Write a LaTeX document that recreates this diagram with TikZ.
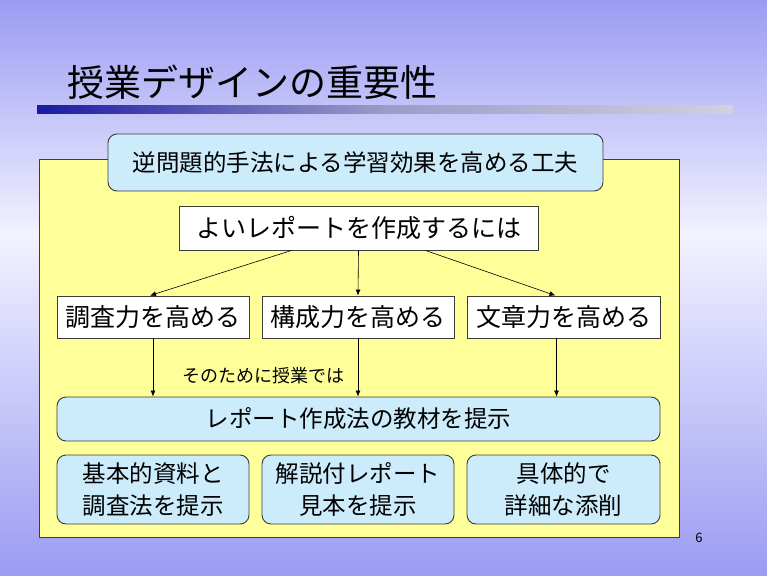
\documentclass[tikz,border=0pt]{standalone}
\usepackage{fontspec}
\setmainfont{Noto Sans CJK JP}
\usetikzlibrary{arrows.meta}
\definecolor{bgblue}{RGB}{155,155,243}
\definecolor{bglight}{RGB}{242,242,255}
\definecolor{panel}{RGB}{255,255,153}
\definecolor{boxblue}{RGB}{204,236,252}
\definecolor{edge}{RGB}{60,60,60}
\begin{document}
\begin{tikzpicture}[x=1pt,y=-1pt,
    plain/.style={draw=edge,fill=white,line width=0.9pt,inner sep=0pt,minimum height=42pt,font=\fontsize{25}{30}\selectfont},
    soft/.style={draw=edge,fill=boxblue,line width=0.9pt,inner sep=0pt,rounded corners=9pt},
    link/.style={-{Latex[length=6pt,width=5pt]},line width=0.6pt}]
            \useasboundingbox (0,0) rectangle (767,575);
            \fill[top color=bgblue,bottom color=bglight] (0,0) rectangle (767,235);
            \fill[top color=bglight,bottom color=bgblue] (0,235) rectangle (767,575);
            \node[anchor=base west,inner sep=0pt,font=\fontsize{37}{40}\selectfont] (T) at (67,96){授業デザインの重要性};
            \fill[left color=blue!60!black!90,right color=bgblue!40!gray!40,middle color=blue!30!gray!60] (37,106) rectangle (733,113);
            \draw[draw=edge,fill=panel,line width=0.9pt] (39,159) rectangle (679,537);
            \node[soft,minimum width=495pt,minimum height=57pt,font=\fontsize{23.5}{28}\selectfont] (G) at (355.5,162.5){逆問題的手法による学習効果を高める工夫};
            \node[plain,minimum width=359pt,minimum height=44pt] (A) at (358.5,228){よいレポートを作成するには};
            \node[plain,minimum width=192pt] (B1) at (153,317){調査力を高める};
            \node[plain,minimum width=192pt] (B2) at (358,317){構成力を高める};
            \node[plain,minimum width=193pt] (B3) at (563.5,317){文章力を高める};
            \node[soft,minimum width=603pt,minimum height=44pt,font=\fontsize{23.5}{28}\selectfont] (C) at (358.5,419){レポート作成法の教材を提示};
            \node[font=\fontsize{18}{20}\selectfont] (L) at (263,376){そのために授業では};
            \node[soft,minimum width=192pt,minimum height=69pt,align=center,font=\fontsize{23.5}{32}\selectfont] (D1) at (153,489.5){基本的資料と\\調査法を提示};
            \node[soft,minimum width=192pt,minimum height=69pt,align=center,font=\fontsize{23.5}{32}\selectfont] (D2) at (358,489.5){解説付レポート\\見本を提示};
            \node[soft,minimum width=193pt,minimum height=69pt,align=center,font=\fontsize{23.5}{32}\selectfont] (D3) at (563.5,489.5){具体的で\\詳細な添削};
            \node[font=\fontsize{13}{15}\selectfont] (P) at (699,538){6};
            \draw[link] ([xshift=-67pt]A.south) -- ([xshift=-3pt]B1.north);
            \draw[link] (A.south) -- (B2.north);
            \draw[link] ([xshift=67pt]A.south) -- ([xshift=-8pt]B3.north);
            \draw[link] (B1.south) -- (B1.south |- C.north);
            \draw[link] (B2.south) -- (B2.south |- C.north);
            \draw[link] ([xshift=-7pt]B3.south) -- ([xshift=-7pt]B3.south |- C.north);
        \end{tikzpicture}
\end{document}
